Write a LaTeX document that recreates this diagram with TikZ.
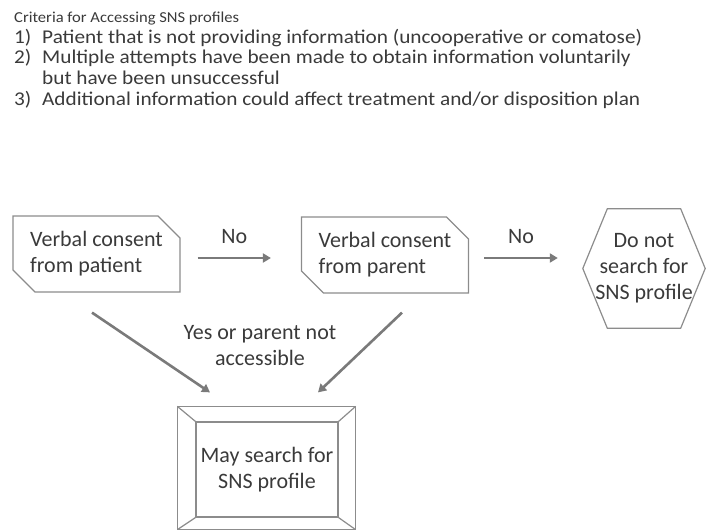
\documentclass[tikz,border=0pt]{standalone}
\usepackage{fontspec}
\setmainfont{Carlito}
\usetikzlibrary{shapes.misc,arrows.meta}
\definecolor{txt}{HTML}{3A3A3A}
\definecolor{edgegray}{HTML}{8C8C8C}
\definecolor{arrgray}{HTML}{7A7A7A}
\tikzset{
  box/.style={chamfered rectangle, chamfered rectangle corners={north east,south west},
    chamfered rectangle xsep=12pt, chamfered rectangle ysep=10pt,
    draw=edgegray, line width=1.2pt, minimum width=167pt, minimum height=76pt,
    align=left, text=txt, font=\fontsize{22}{26}\selectfont, inner sep=0pt},
  lbl/.style={text=txt, font=\fontsize{22}{26}\selectfont, align=center, inner sep=0pt},
  frame/.style={draw=edgegray, line width=1.2pt},
  arr/.style={draw=arrgray, line width=2.6pt, -{Triangle[length=8pt,width=9pt]}},
}
\begin{document}
\begin{tikzpicture}[x=1pt,y=-1pt]
\useasboundingbox (0,0) rectangle (707,530);

\node[anchor=north west, text=txt, font=\fontsize{19.5}{20.6}\selectfont, inner sep=0pt] (crit) at (14,8) {%
\scalebox{1.09}[1]{\begin{tabular}{@{}p{25.7pt}@{}l@{}}
\multicolumn{2}{@{}l@{}}{\fontsize{15.2}{20.6}\selectfont Criteria for Accessing SNS profiles}\\
1) & Patient that is not providing information (uncooperative or comatose)\\
2) & Multiple attempts have been made to obtain information voluntarily\\
   & but have been unsuccessful\\
3) & Additional information could affect treatment and/or disposition plan
\end{tabular}}};

\node[box] (pat) at (96.5,254) {Verbal consent\\from patient};
\node[box] (par) at (385,255) {Verbal consent\\from parent};

\node[lbl, minimum width=122pt, minimum height=119pt] (stop) at (644,268.5) {Do not\\search for\\SNS profile};
\draw[frame] (stop.west) -- ([xshift=24.5pt]stop.north west) -- ([xshift=-24.5pt]stop.north east)
  -- (stop.east) -- ([xshift=-24.5pt]stop.south east) -- ([xshift=24.5pt]stop.south west) -- cycle;

\node[lbl, frame, minimum width=142pt, minimum height=95pt] (may) at (267,469.5) {May search for\\SNS profile};
\draw[frame] ([xshift=-18pt,yshift=15pt]may.north west) rectangle ([xshift=17pt,yshift=-12pt]may.south east);
\foreach \c/\dx/\dy in {north west/-18/15, north east/17/15, south east/17/-12, south west/-18/-12}
  \draw[frame] (may.\c) -- ([xshift=\dx pt,yshift=\dy pt]may.\c);

\draw[arr] ([xshift=17pt,yshift=-4pt]pat.east) -- ([xshift=-30pt,yshift=-3pt]par.west)
  node[lbl, midway, above=13pt] (no1) {No};
\draw[arr] ([xshift=15pt,yshift=-3pt]par.east) -- ([xshift=-25pt,yshift=10.5pt]stop.west)
  node[lbl, midway, above=13pt] (no2) {No};

\node[lbl] (yes) at (260,346) {Yes or parent not\\accessible};
\draw[arr] ([xshift=-4.5pt,yshift=-20pt]pat.south) -- ([xshift=-57pt,yshift=29pt]may.north);
\draw[arr] ([xshift=17pt,yshift=-19pt]par.south) -- ([xshift=51pt,yshift=29pt]may.north);

\end{tikzpicture}
\end{document}
